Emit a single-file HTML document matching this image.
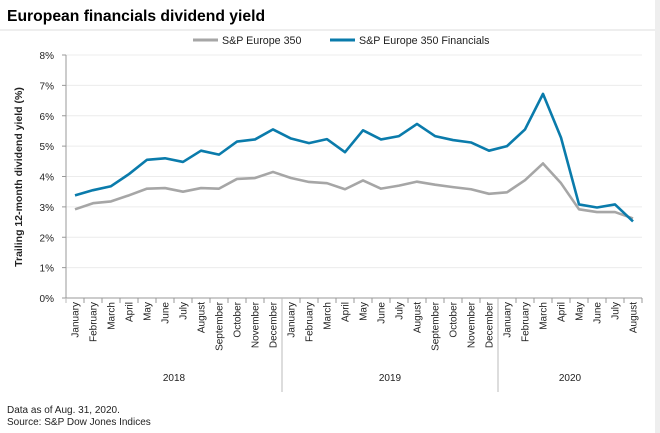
<!DOCTYPE html>
<html><head><meta charset="utf-8"><style>
body{margin:0;background:#fff;font-family:"Liberation Sans",sans-serif}
svg{display:block}
</style></head><body>
<svg width="660" height="433" xmlns="http://www.w3.org/2000/svg">
<rect x="0" y="0" width="660" height="433" fill="#fff"/>
<rect x="655" y="0" width="5" height="433" fill="#eeeeee"/>
<text x="7" y="21" font-size="15.7" font-weight="bold" fill="#000">European financials dividend yield</text>
<line x1="0" y1="30" x2="655" y2="30" stroke="#ddd"/>
<g>
<line x1="193" y1="40" x2="218" y2="40" stroke="#a6a6a6" stroke-width="3"/>
<text x="222" y="44" font-size="10.7" fill="#222">S&amp;P Europe 350</text>
<line x1="330" y1="40" x2="355" y2="40" stroke="#0a7bab" stroke-width="3"/>
<text x="359" y="44" font-size="10.7" fill="#222">S&amp;P Europe 350 Financials</text>
</g>
<g id="grid"></g>
<g id="axes"></g>
<g id="series"></g>
<text transform="translate(22,177) rotate(-90)" text-anchor="middle" font-size="10.5" font-weight="bold" fill="#222">Trailing 12-month dividend yield (%)</text>
<text x="7" y="413" font-size="10" fill="#222">Data as of Aug. 31, 2020.</text>
<text x="7" y="425" font-size="10" fill="#222">Source: S&amp;P Dow Jones Indices</text>
</svg>
<script>
const months=["January","February","March","April","May","June","July","August","September","October","November","December"];
const years=["2018","2019","2020"];
const yTicks=[0,1,2,3,4,5,6,7,8];
const sp350=[2.92,3.12,3.18,3.38,3.6,3.62,3.5,3.62,3.6,3.92,3.95,4.15,3.95,3.82,3.78,3.58,3.87,3.6,3.7,3.83,3.73,3.65,3.58,3.43,3.48,3.88,4.43,3.78,2.92,2.83,2.83,2.62];
const financials=[3.38,3.55,3.68,4.08,4.55,4.6,4.48,4.85,4.72,5.15,5.22,5.55,5.25,5.1,5.23,4.8,5.52,5.22,5.33,5.73,5.33,5.2,5.12,4.85,5.0,5.55,6.72,5.28,3.08,2.98,3.08,2.52];
const NS="http://www.w3.org/2000/svg";
const x0=66,bw=18,yBase=298,yTop=55,yMax=8;
const n=sp350.length;
const cats=[];for(let i=0;i<n;i++)cats.push(months[i%12]);
const xS=i=>x0+bw*(i+0.5);
const yS=v=>yBase-(v/yMax)*(yBase-yTop);
function mk(t,a,p){const e=document.createElementNS(NS,t);for(const k in a)e.setAttribute(k,a[k]);p.appendChild(e);return e;}
const grid=document.getElementById('grid'),axes=document.getElementById('axes'),ser=document.getElementById('series');
yTicks.forEach(v=>{
 if(v>0){const l=mk('line',{x1:x0,x2:x0+bw*n,y1:yS(v),y2:yS(v),stroke:'#ececec'},grid);
 
 }
 const t=mk('text',{x:54,y:yS(v)+4,'text-anchor':'end','font-size':'10',fill:'#222'},axes);t.textContent=v+'%';
 
 
 mk('line',{x1:x0-4,x2:x0,y1:yS(v),y2:yS(v),stroke:'#999'},axes);
});
mk('line',{x1:x0,x2:x0,y1:yTop,y2:yBase,stroke:'#999'},axes);
mk('line',{x1:x0,x2:x0+bw*n,y1:yBase,y2:yBase,stroke:'#999'},axes);
for(let i=0;i<=n;i++){const big=(i%12===0);
 mk('line',{x1:x0+bw*i,x2:x0+bw*i,y1:yBase,y2:big&&i>0&&i<n?392:yBase+5,stroke:big?'#bbb':'#999'},axes);}
cats.forEach((c,i)=>{const t=mk('text',{transform:`translate(${xS(i)+3.5},302) rotate(-90)`,'text-anchor':'end','font-size':'10',fill:'#222'},axes);t.textContent=c;
 
 });
years.forEach((y,k)=>{const s=k*12,e=Math.min(n,s+12);const t=mk('text',{x:x0+bw*(s+e)/2,y:381,'text-anchor':'middle','font-size':'10',fill:'#222'},axes);t.textContent=y;
 
 });
function line(d,col,name){const p=mk('polyline',{points:d.map((v,i)=>xS(i)+','+yS(v)).join(' '),fill:'none',stroke:col,'stroke-width':'2.6','stroke-linejoin':'round'},ser);
 
 }
line(sp350,'#a6a6a6','line-sp350');
line(financials,'#0a7bab','line-financials');
</script>
</body></html>
